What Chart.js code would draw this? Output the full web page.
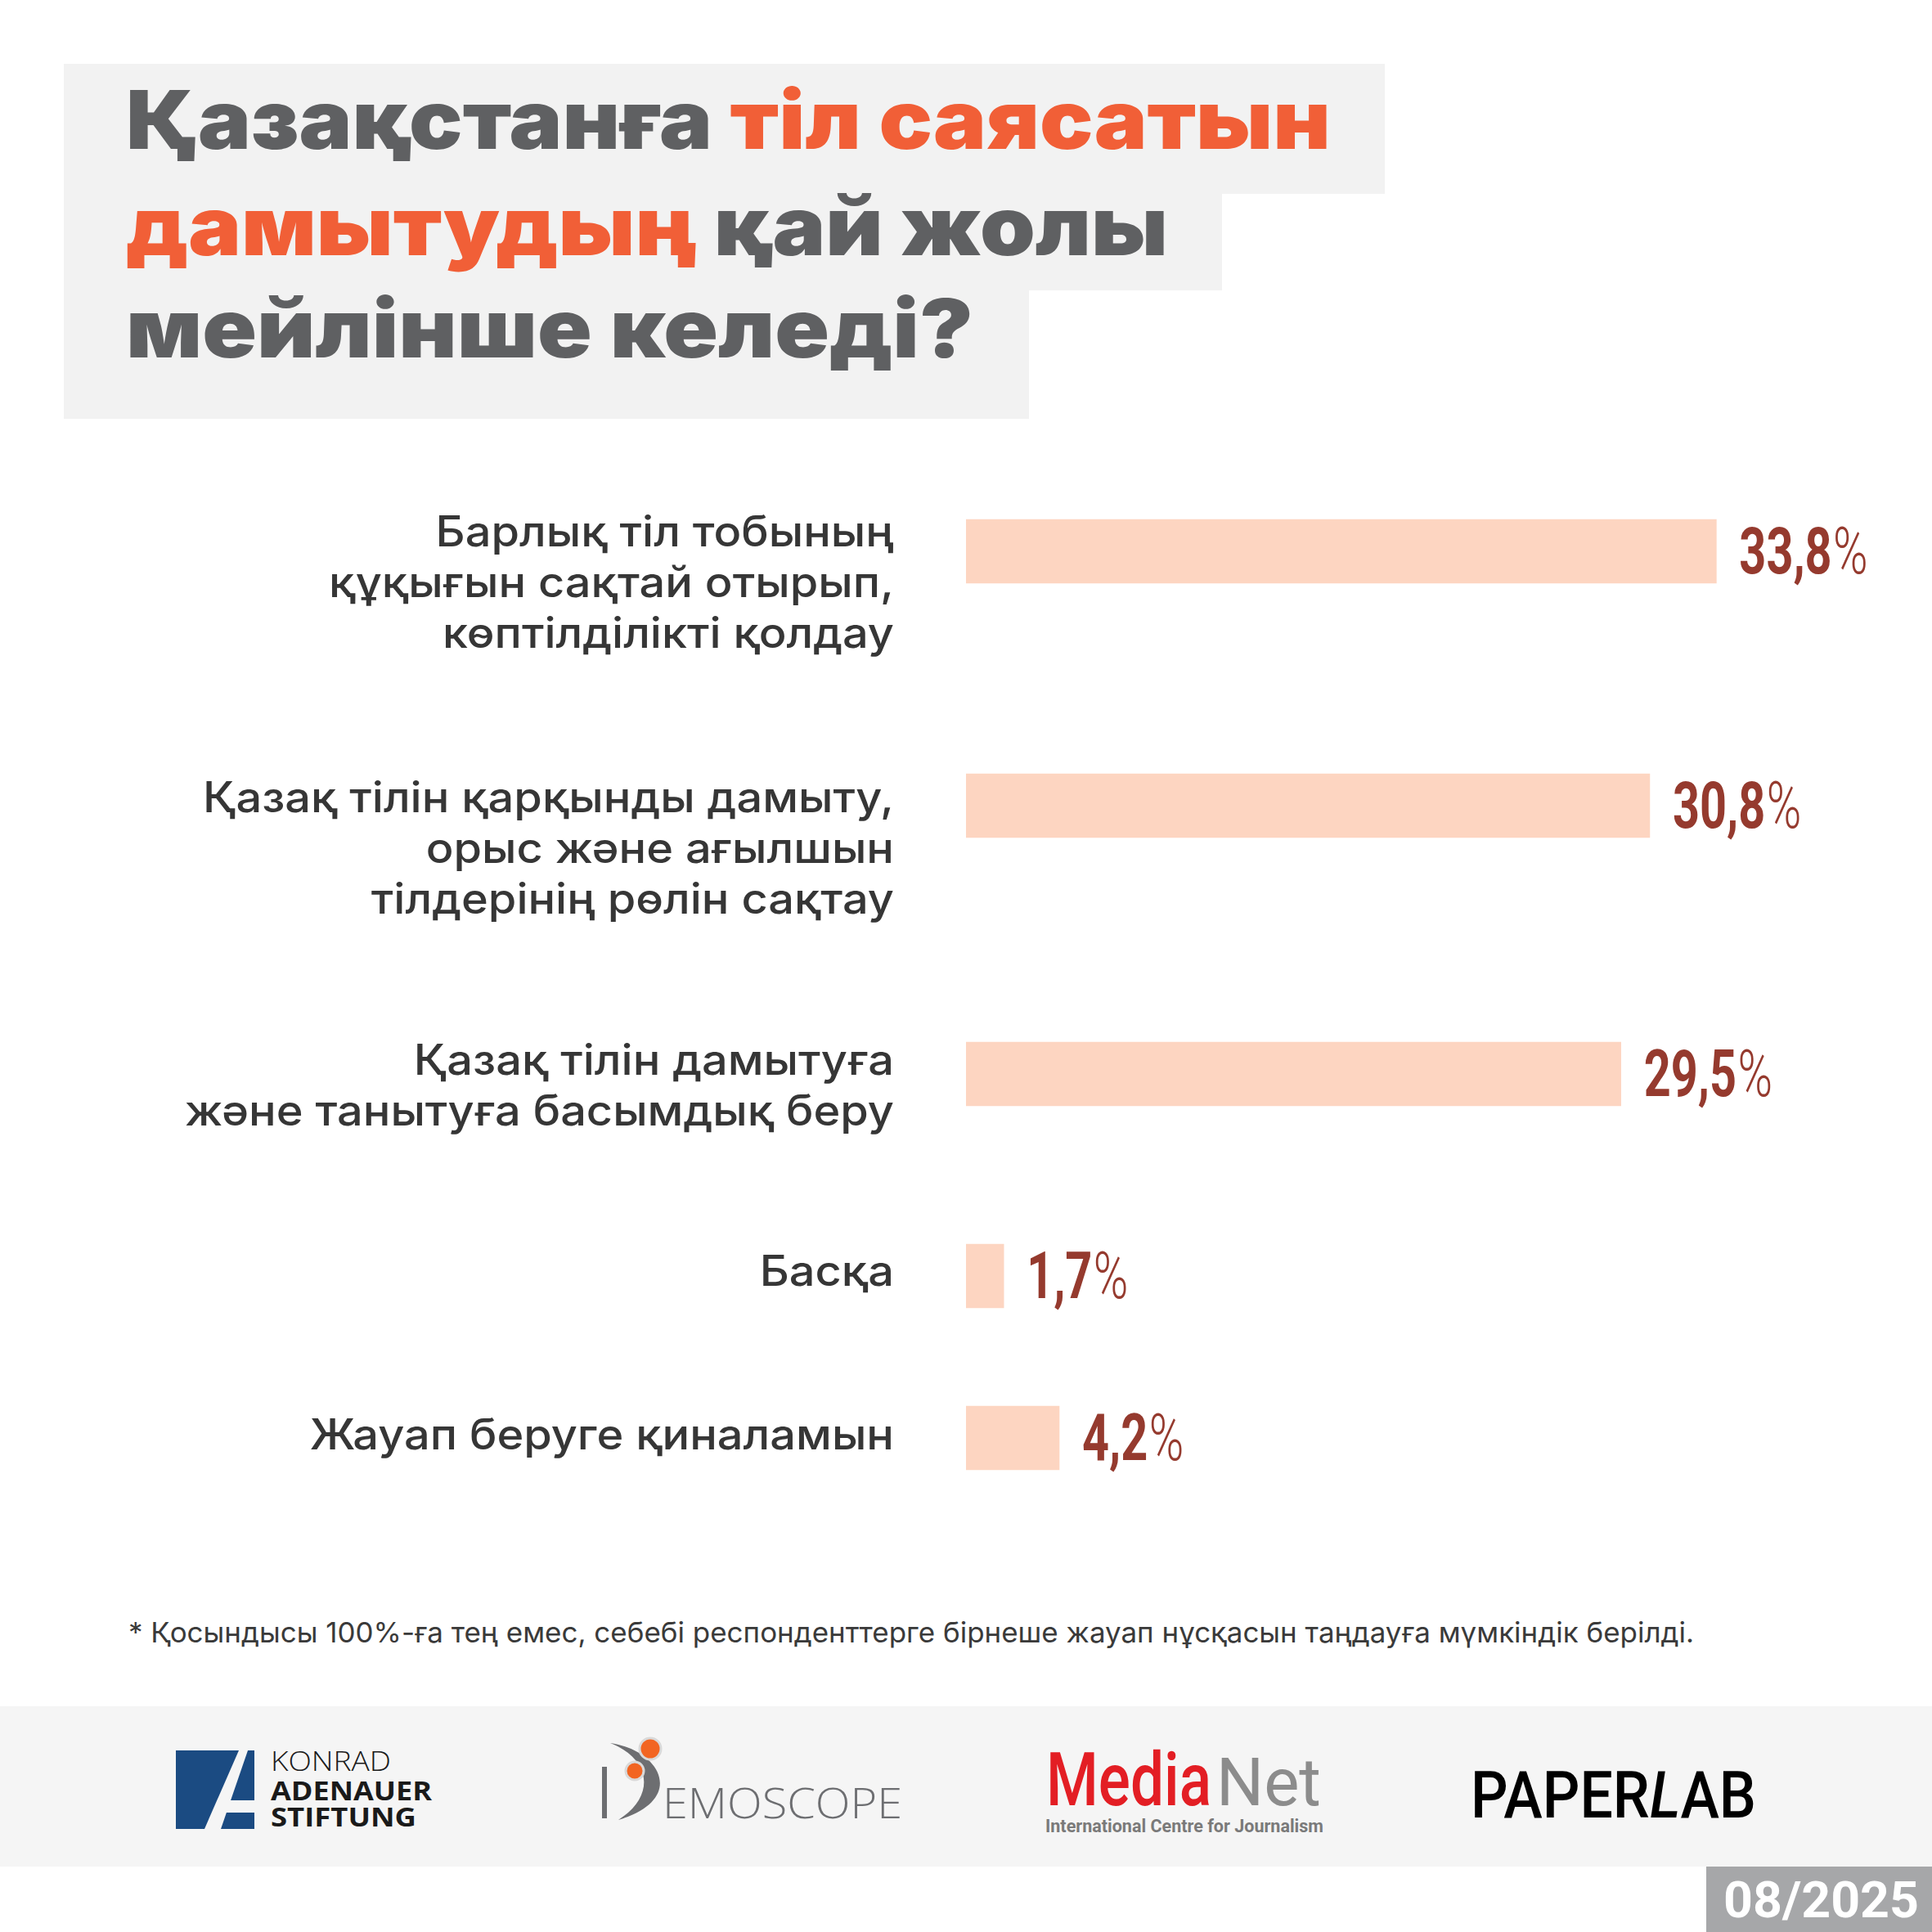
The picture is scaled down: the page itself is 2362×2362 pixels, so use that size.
<!DOCTYPE html>
<html>
<head>
<meta charset="utf-8">
<script src="https://cdn.jsdelivr.net/npm/chart.js@4.4.1/dist/chart.umd.min.js"></script>
<style>
html,body{margin:0;padding:0;background:#fff;}
#page{position:relative;width:2362px;height:2362px;overflow:hidden;background:#fff;}
#overlay{position:absolute;left:0;top:0;}
</style>
</head>
<body>
<div id="page">
<svg id="overlay" width="2362" height="2362" xmlns="http://www.w3.org/2000/svg">
  <!-- title backgrounds -->
  <rect x="78" y="78" width="1615" height="159" fill="#f2f2f2"/>
  <rect x="78" y="236" width="1416" height="119" fill="#f2f2f2"/>
  <rect x="78" y="354" width="1180" height="158" fill="#f2f2f2"/>
  <g font-family="Inter, 'Open Sans', sans-serif" font-weight="900" font-size="99">
    <text x="154" y="182" textLength="1473" lengthAdjust="spacingAndGlyphs"><tspan fill="#5f6062">Қазақстанға </tspan><tspan fill="#f15f37">тіл саясатын</tspan></text>
    <text x="154" y="312" textLength="1274" lengthAdjust="spacingAndGlyphs"><tspan fill="#f15f37">дамытудың</tspan><tspan fill="#5f6062"> қай жолы</tspan></text>
    <text x="154" y="437" textLength="1036" lengthAdjust="spacingAndGlyphs" fill="#5f6062">мейлінше келеді?</text>
  </g>
  <g id="catLabels" font-family="Inter, 'Noto Sans', sans-serif" font-weight="500" font-size="52" fill="#363636" text-anchor="end"></g>
  <text id="footnote" x="157" y="2008" font-family="Inter, 'Noto Sans', sans-serif" font-size="34" fill="#3a3a3a" textLength="1914" lengthAdjust="spacingAndGlyphs">* Қосындысы 100%-ға тең емес, себебі респонденттерге бірнеше жауап нұсқасын таңдауға мүмкіндік берілді.</text>

  <!-- footer band -->
  <rect x="0" y="2086" width="2362" height="196" fill="#f5f5f5"/>
  <!-- KAS logo -->
  <rect x="215" y="2140" width="96" height="96" fill="#1b4b82"/>
  <polygon points="292,2140 303,2140 270,2236 250,2236" fill="#f5f5f5"/>
  <rect x="270" y="2201" width="41" height="15" fill="#f5f5f5"/>
  <g font-family="'Open Sans', sans-serif" fill="#1a1a1a">
    <text x="331" y="2165" font-size="33" font-weight="300" textLength="147" lengthAdjust="spacingAndGlyphs">KONRAD</text>
    <text x="331" y="2201" font-size="33" font-weight="700" textLength="197" lengthAdjust="spacingAndGlyphs">ADENAUER</text>
    <text x="331" y="2233" font-size="33" font-weight="700" textLength="178" lengthAdjust="spacingAndGlyphs">STIFTUNG</text>
  </g>
  <!-- DEMOSCOPE logo -->
  <rect x="736" y="2160" width="6" height="63" fill="#6d6e71"/>
  <path d="M746,2131 C808,2140 840,2200 756,2225 C803,2195 795,2150 746,2131 Z" fill="#6d6e71"/>
  <circle cx="795" cy="2138" r="13" fill="#f26522" stroke="#d9d9d9" stroke-width="3"/>
  <circle cx="776" cy="2165" r="11" fill="#f26522" stroke="#d9d9d9" stroke-width="3"/>
  <text x="810" y="2223" font-family="'Open Sans', sans-serif" font-weight="300" font-size="52" fill="#6d6e71" textLength="293" lengthAdjust="spacingAndGlyphs">EMOSCOPE</text>
  <!-- MediaNet logo -->
  <text x="1279" y="2207" font-family="Roboto, sans-serif" font-weight="500" font-size="90" fill="#e31e24" textLength="202" lengthAdjust="spacingAndGlyphs">Media</text>
  <text x="1487" y="2207" font-family="Roboto, sans-serif" font-weight="400" font-size="82" fill="#8c8c8c" textLength="128" lengthAdjust="spacingAndGlyphs">Net</text>
  <text x="1278" y="2240" font-family="Roboto, sans-serif" font-weight="700" font-size="22" fill="#7a7a7a" textLength="340" lengthAdjust="spacingAndGlyphs">International Centre for Journalism</text>
  <!-- PAPERLAB logo -->
  <text x="1798" y="2222" font-family="Roboto, sans-serif" font-weight="500" font-size="80" fill="#000" textLength="349" lengthAdjust="spacingAndGlyphs">PAPER<tspan font-style="italic">L</tspan>AB</text>
  <!-- date -->
  <rect x="2086" y="2282" width="276" height="80" fill="#a6a7a9"/>
  <text x="2107" y="2344" font-family="Roboto, sans-serif" font-weight="700" font-size="62" fill="#fff" textLength="239" lengthAdjust="spacingAndGlyphs">08/2025</text>
</svg>
</div>
<script>
// ---- data ----
const categories = [
  ["Барлық тіл тобының", "құқығын сақтай отырып,", "көптілділікті қолдау"],
  ["Қазақ тілін қарқынды дамыту,", "орыс және ағылшын", "тілдерінің рөлін сақтау"],
  ["Қазақ тілін дамытуға", "және танытуға басымдық беру"],
  ["Басқа"],
  ["Жауап беруге қиналамын"]
];
const values = [33.8, 30.8, 29.5, 1.7, 4.2];
const valueSuffix = "%";

// ---- layout (page geometry, not data) ----
const PAGE_W = 2362;
const BAR_LEFT = 1181;
const PX_PER_UNIT = 27.14;
const X_MAX = 40;
const BAR_THICKNESS = 78;
const ROW_H = 120;
const rowCenters = [673.7, 984.5, 1313.2, 1560.3, 1758.3];
const labelRight = 1093;
const labelFirstBaseline = [668, 993, 1314, 1572, 1772];
const labelLineGap = 62;
const labelStretch = 1.075;

const BAR_COLOR = "#fdd5c1";
const VALUE_COLOR = "#953a2e";

// category labels as text
const svgNS = "http://www.w3.org/2000/svg";
const catGroup = document.getElementById("catLabels");
categories.forEach((lines, i) => {
  lines.forEach((line, k) => {
    const t = document.createElementNS(svgNS, "text");
    t.setAttribute("x", labelRight);
    t.setAttribute("y", labelFirstBaseline[i] + k * labelLineGap);
    t.textContent = line;
    catGroup.appendChild(t);
    const w = t.getComputedTextLength();
    if (w > 0) {
      t.setAttribute("textLength", (w * labelStretch).toFixed(1));
      t.setAttribute("lengthAdjust", "spacingAndGlyphs");
    }
  });
});

const valueLabelPlugin = {
  id: "valueLabel",
  afterDatasetsDraw(chart) {
    const ctx = chart.ctx;
    const meta = chart.getDatasetMeta(0);
    meta.data.forEach((bar, j) => {
      const v = chart.data.datasets[0].data[j];
      const num = v.toFixed(1).replace(".", ",");
      ctx.save();
      ctx.translate(bar.x + 28, bar.y + 27);
      ctx.scale(0.72, 1);
      ctx.fillStyle = VALUE_COLOR;
      ctx.textAlign = "left";
      ctx.textBaseline = "alphabetic";
      ctx.font = "bold 80px Roboto";
      ctx.fillText(num, 0, 0);
      const w = ctx.measureText(num).width;
      ctx.font = "300 80px Roboto";
      ctx.fillText(valueSuffix, w + 2, 0);
      ctx.restore();
    });
  }
};

const page = document.getElementById("page");
values.forEach((v, i) => {
  const c = document.createElement("canvas");
  c.width = PAGE_W;
  c.height = ROW_H;
  c.style.cssText = "position:absolute;left:0;top:" + (rowCenters[i] - ROW_H / 2) + "px;width:" + PAGE_W + "px;height:" + ROW_H + "px;";
  page.appendChild(c);
  new Chart(c, {
    type: "bar",
    data: {
      labels: [categories[i].join(" ")],
      datasets: [{
        data: [v],
        backgroundColor: BAR_COLOR,
        borderWidth: 0,
        barThickness: BAR_THICKNESS
      }]
    },
    options: {
      indexAxis: "y",
      responsive: false,
      devicePixelRatio: 1,
      animation: false,
      layout: { padding: { left: BAR_LEFT, right: PAGE_W - BAR_LEFT - X_MAX * PX_PER_UNIT, top: 0, bottom: 0 } },
      scales: {
        x: { min: 0, max: X_MAX, display: false },
        y: { display: false }
      },
      plugins: { legend: { display: false }, tooltip: { enabled: false } }
    },
    plugins: [valueLabelPlugin]
  });
});
</script>
</body>
</html>
